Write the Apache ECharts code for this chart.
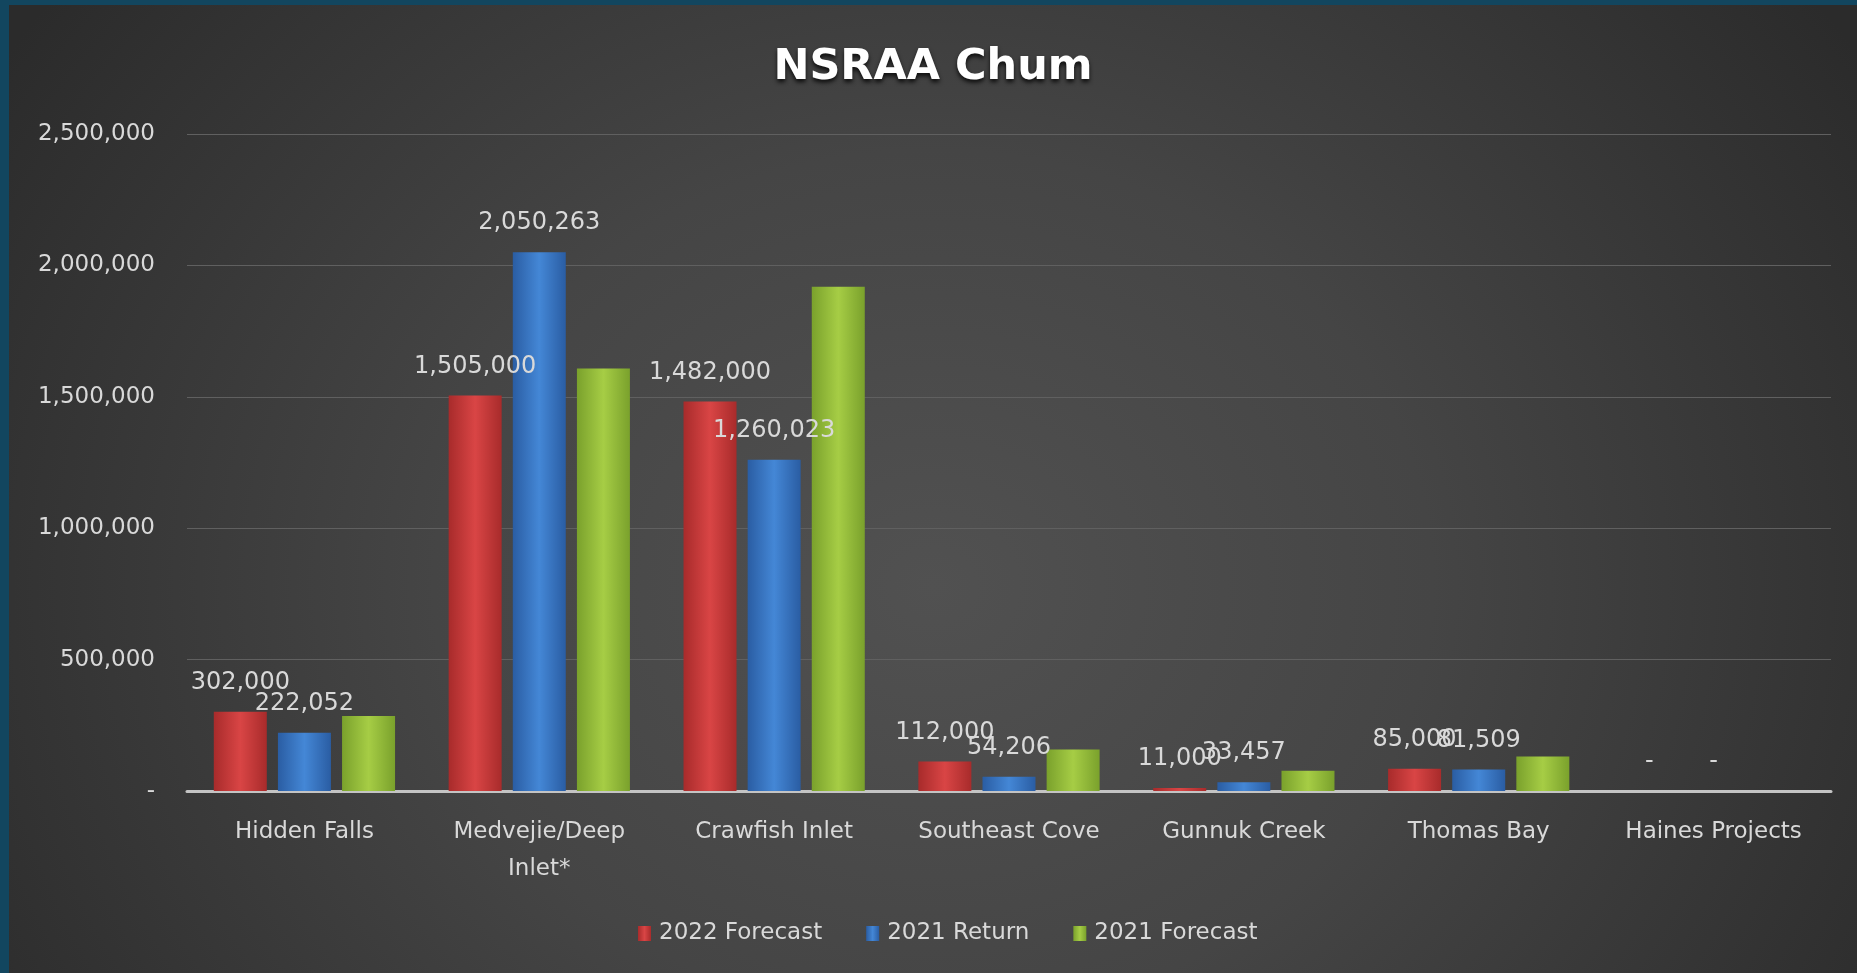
<!DOCTYPE html>
<html>
<head>
<meta charset="utf-8">
<script src="https://cdn.jsdelivr.net/npm/echarts@6/dist/echarts.min.js"></script>
<style>
  html, body { margin: 0; padding: 0; width: 1857px; height: 973px; overflow: hidden; background: #12465f; }
  #chart {
    position: absolute; left: 9px; top: 5px; width: 1848px; height: 968px;
    background: radial-gradient(ellipse 60% 100% at 50% 60%, #515151 0%, #454545 45%, #2b2b2b 100%);
  }
</style>
</head>
<body>
<div id="chart"></div>
<script>
const categories = ['Hidden Falls', 'Medvejie/Deep\nInlet*', 'Crawfish Inlet', 'Southeast Cove', 'Gunnuk Creek', 'Thomas Bay', 'Haines Projects']
const forecast2022 = [302000, 1505000, 1482000, 112000, 11000, 85000, 0]
const return2021 = [222052, 2050263, 1260023, 54206, 33457, 81509, 0]
const forecast2021 = [285000, 1608000, 1919000, 158000, 77000, 131000, 0]
const yTicks = [0, 500000, 1000000, 1500000, 2000000, 2500000]

const font = '"DejaVu Sans"'
const txt = '#d9d9d9'

const fmt = v => v === 0 ? '-' : v.toLocaleString('en-US')

const barGrad = (dark, light) => new echarts.graphic.LinearGradient(0, 0, 1, 0, [
  { offset: 0, color: dark },
  { offset: 0.5, color: light },
  { offset: 1, color: dark }
])

const colors = {
  red: barGrad('#a82b2b', '#d94545'),
  blue: barGrad('#2a5da3', '#4487d6'),
  green: barGrad('#7aa12c', '#a6cd45')
}

const chart = echarts.init(document.getElementById('chart'))

const labelOpt = {
  show: true,
  position: 'top',
  distance: 17,
  color: txt,
  fontFamily: font,
  fontSize: 24,
  formatter: p => fmt(p.value)
}

chart.setOption({
  backgroundColor: 'transparent',
  title: {
    text: 'NSRAA Chum',
    left: 'center',
    top: 36,
    textStyle: {
      color: '#ffffff',
      fontFamily: font,
      fontWeight: 'bold',
      fontSize: 43,
      textShadowColor: 'rgba(0,0,0,0.8)',
      textShadowBlur: 4,
      textShadowOffsetY: 3
    }
  },
  legend: {
    left: 624,
    top: 912,
    itemWidth: 13,
    itemHeight: 15,
    itemGap: 44,
    icon: 'rect',
    textStyle: { color: txt, fontFamily: font, fontSize: 23, padding: [0, 0, 0, 3] },
    data: ['2022 Forecast', '2021 Return', '2021 Forecast']
  },
  grid: { left: 178, right: 26, top: 129, bottom: 182 },
  xAxis: {
    type: 'category',
    data: categories,
    axisLine: { lineStyle: { color: '#c4c4c4', width: 3 } },
    axisTick: { show: false },
    axisLabel: { color: txt, fontFamily: font, fontSize: 23, lineHeight: 37, margin: 23, interval: 0 }
  },
  yAxis: {
    type: 'value',
    min: yTicks[0],
    max: yTicks[yTicks.length - 1],
    interval: yTicks[1] - yTicks[0],
    axisLine: { show: false },
    axisTick: { show: false },
    splitLine: { lineStyle: { color: '#606060', width: 1 } },
    axisLabel: { color: txt, fontFamily: font, fontSize: 23, margin: 32, formatter: v => fmt(v) }
  },
  series: [
    {
      name: '2022 Forecast',
      type: 'bar',
      data: forecast2022,
      barWidth: 53,
      barGap: '21%',
      itemStyle: { color: colors.red },
      label: labelOpt
    },
    {
      name: '2021 Return',
      type: 'bar',
      data: return2021,
      barWidth: 53,
      barGap: '21%',
      itemStyle: { color: colors.blue },
      label: labelOpt
    },
    {
      name: '2021 Forecast',
      type: 'bar',
      data: forecast2021,
      barWidth: 53,
      barGap: '21%',
      itemStyle: { color: colors.green }
    }
  ]
})
</script>
</body>
</html>
